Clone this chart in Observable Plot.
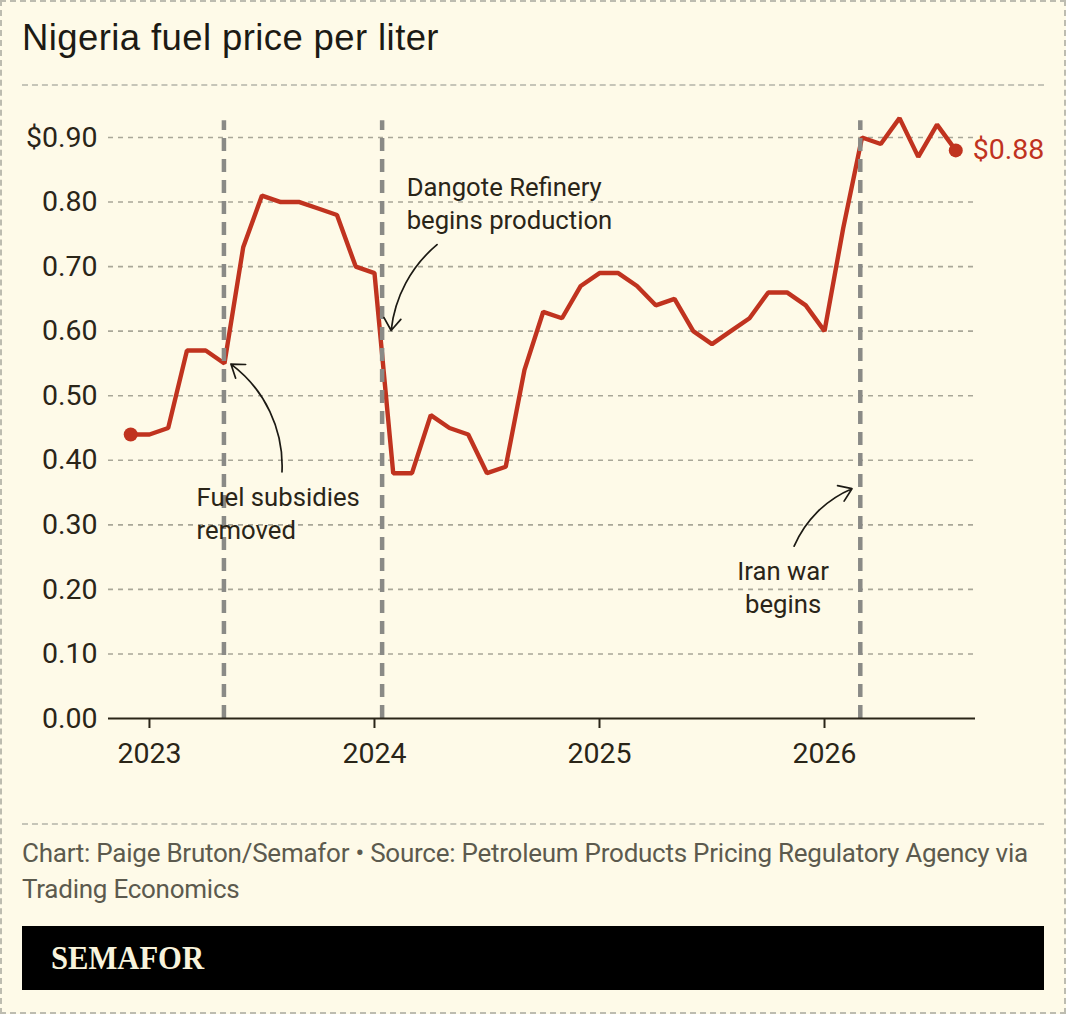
<!DOCTYPE html>
<html><head><meta charset="utf-8">
<script src="https://cdn.jsdelivr.net/npm/d3@7"></script>
<script src="https://cdn.jsdelivr.net/npm/@observablehq/plot@0.6"></script>
<style>
html,body{margin:0;padding:0;background:#fefae8;overflow:hidden}
#card{position:relative;width:1066px;height:1014px;box-sizing:border-box;border:2px dashed #bdbcb0;background:#fefae8;overflow:hidden}
#card>*{position:absolute}
#title{left:20px;top:14px;font:36.5px/44px "Liberation Sans",sans-serif;letter-spacing:.4px;color:#1c1a14;margin:0;white-space:nowrap}
.hr{left:20px;width:1022px;border-top:2px dashed #c6c5b8;height:0}
#chart{left:-2px;top:88px}
#chart svg{max-width:none}
#cap{left:20px;top:833px;width:1030px;font:26px/36px Roboto,sans-serif;color:#5c5a4e;letter-spacing:-.25px;margin:0}
#bar{left:20px;top:924px;width:1022px;height:64px;background:#000}
#logo{left:29px;top:0;font:bold 34px/64px "Liberation Serif",serif;color:#f8f3dc;transform:scaleX(.9);transform-origin:left center}
svg text{font-family:Roboto,sans-serif}
</style></head><body>
<div id="card">
<h1 id="title" style="font-weight:400">Nigeria fuel price per liter</h1>
<div class="hr" style="top:82px"></div>
<div id="chart"></div>
<div class="hr" style="top:821px"></div>
<p id="cap">Chart: Paige Bruton/Semafor • Source: Petroleum Products Pricing Regulatory Agency via Trading Economics</p>
<div id="bar"><div id="logo" style="position:absolute">SEMAFOR</div></div>
</div>
<script>
const months = ["2022-12","2023-01","2023-02","2023-03","2023-04","2023-05","2023-06","2023-07","2023-08","2023-09","2023-10","2023-11","2023-12",
"2024-01","2024-02","2024-03","2024-04","2024-05","2024-06","2024-07","2024-08","2024-09","2024-10","2024-11","2024-12",
"2025-01","2025-02","2025-03","2025-04","2025-05","2025-06","2025-07","2025-08","2025-09","2025-10","2025-11","2025-12",
"2026-01","2026-02","2026-03","2026-04","2026-05","2026-06","2026-07","2026-08"];
const prices = [0.44,0.44,0.45,0.57,0.57,0.55,0.73,0.81,0.80,0.80,0.79,0.78,0.70,
0.69,0.38,0.38,0.47,0.45,0.44,0.38,0.39,0.54,0.63,0.62,0.67,
0.69,0.69,0.67,0.64,0.65,0.60,0.58,0.60,0.62,0.66,0.66,0.64,
0.60,0.76,0.90,0.89,0.93,0.87,0.92,0.88];
const yTicks = [0,0.1,0.2,0.3,0.4,0.5,0.6,0.7,0.8,0.9];
const xTicks = [2023,2024,2025,2026];
const eventYears = [2023.331,2024.034,2026.159];
const eventTop = 0.926;
const noteText = ["Fuel subsidies\nremoved","Dangote Refinery\nbegins production","Iran war\nbegins"];
const noteX = [2023.209,2024.143,2025.816];
const noteY = [0.32,0.80,0.205];
const noteAnchor = ["start","start","middle"];
const arrowX1 = [2023.589,2024.278,2025.865];
const arrowY1 = [0.382,0.734,0.267];
const arrowX2 = [2023.362,2024.074,2026.122];
const arrowY2 = [0.549,0.601,0.356];
const arrowBend = [-28,-22,22];
const lastLabel = "$0.88";

const toYear = s => { const [y,m] = s.split("-").map(Number); return y + (m-1)/12; };
const series = months.map((m,i) => ({x: toYear(m), y: prices[i]}));
const ends = [series[0], series[series.length-1]];
const notes = noteText.map((t,i)=>({t,x:noteX[i],y:noteY[i],a:noteAnchor[i]}));
const arrows = arrowX1.map((_,i)=>({x1:arrowX1[i],y1:arrowY1[i],x2:arrowX2[i],y2:arrowY2[i],b:arrowBend[i]}));
const red = "#c0331f", ink = "#2a2518";

const plot = Plot.plot({
  width:1066, height:690,
  marginLeft:108, marginRight:91, marginTop:47, marginBottom:62,
  style:{background:"transparent", overflow:"visible", maxWidth:"none"},
  x:{domain:[2022.818,2026.671], label:null},
  y:{domain:[0,0.9], label:null},
  marks:[
    Plot.ruleY(yTicks.slice(1), {stroke:"#a9a798", strokeWidth:1.6, strokeDasharray:"5 5"}),
    Plot.axisY({ticks:yTicks, tickSize:0, tickPadding:11, fontSize:28.5, fill:ink,
      tickFormat:d=> d===0.9 ? "$0.90" : d3.format(".2f")(d), label:null}),
    Plot.axisX({ticks:xTicks, tickSize:10, tickPadding:14, fontSize:28.5, fill:ink, stroke:ink, strokeWidth:2,
      tickFormat:d=>String(d), label:null}),
    Plot.line(series, {x:"x", y:"y", stroke:red, strokeWidth:4.4, strokeLinejoin:"miter", curve:"linear"}),
    Plot.ruleX(eventYears, {y1:0, y2:eventTop, stroke:"#8a8a86", strokeWidth:4.5, strokeDasharray:"13 8"}),
    Plot.ruleY([0], {stroke:ink, strokeWidth:2}),
    Plot.dot(ends, {x:"x", y:"y", r:7, fill:red}),
    Plot.text([lastLabel], {x:[ends[1].x], y:[ends[1].y], text:d=>d, dx:17, dy:-1, textAnchor:"start", fontSize:28.5, fill:red}),
    ...notes.map(d=>Plot.text([d], {x:"x", y:"y", text:"t", textAnchor:d.a, fontSize:25.7, lineHeight:1.285, fill:ink, lineAnchor:"middle"})),
    ...arrows.map(d=>Plot.arrow([d], {x1:"x1", y1:"y1", x2:"x2", y2:"y2", bend:d.b, stroke:"#1c1a14", strokeWidth:1.7, headLength:13, headAngle:70}))
  ]
});
document.getElementById("chart").append(plot);
</script>
</body></html>
